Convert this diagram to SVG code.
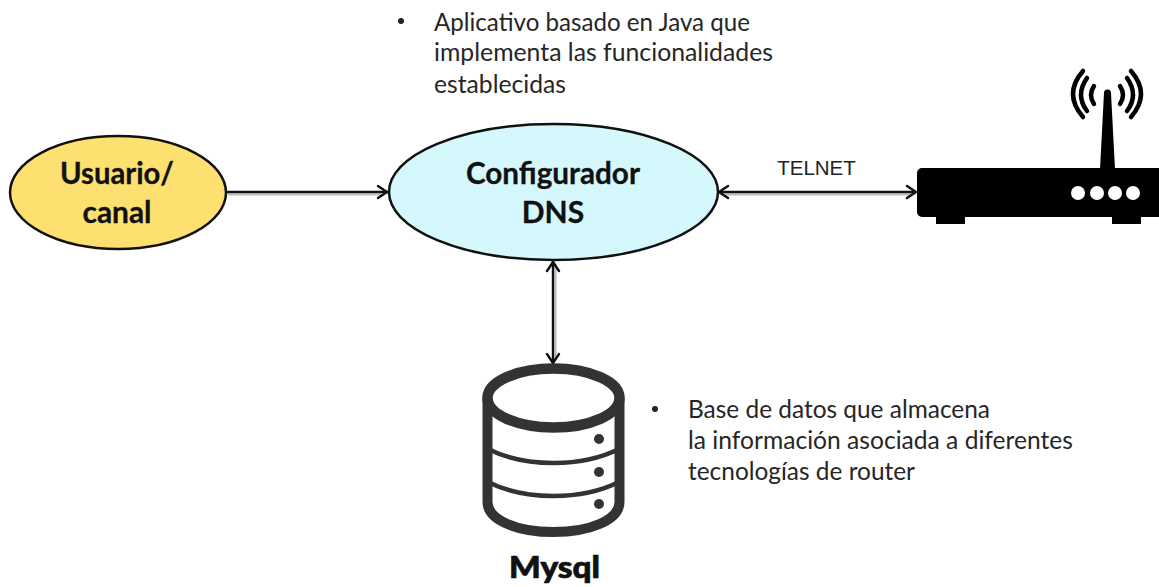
<svg xmlns="http://www.w3.org/2000/svg" width="1159" height="587" viewBox="0 0 1159 587">
<style>
.t{font-family:Lato,"Open Sans",sans-serif;font-size:24.300px;fill:#262626}
.b{font-family:Lato,"Open Sans",sans-serif;font-size:30px;font-weight:700;fill:#111;text-anchor:middle;stroke:#111;stroke-width:.3}
.s{stroke:#bbb;stroke-width:2;fill:none}
.l{stroke:#111;stroke-width:2.400;fill:none}
.h{stroke:#111;stroke-width:2.400;fill:none;stroke-linecap:round}
.d{fill:none;stroke:#333;stroke-linecap:butt}
.w{fill:none;stroke:#000;stroke-width:4.500;stroke-linecap:round}
</style>
<rect width="1159" height="587" fill="#fff"/>
<g id="connectors">
<path class="s" d="M228 194.500H384M722 194.500H912M555.500 264V360"/>
<path class="l" d="M226 192H388"/><path class="h" d="M378 186l9 6-9 6"/>
<path class="l" d="M719 192H916"/><path class="h" d="M728 186l-9 6 9 6M907 186l9 6-9 6"/>
<path class="l" d="M553 261V363"/><path class="h" d="M547 271l6-9 6 9M547 354l6 9 6-9"/>
</g>
<g id="usuario">
<ellipse cx="118" cy="192.500" rx="108" ry="56.500" fill="#fde06f" stroke="#111" stroke-width="2.500"/>
<text class="b" x="117" y="184" textLength="114" lengthAdjust="spacingAndGlyphs">Usuario/</text><text class="b" x="117" y="223" textLength="69" lengthAdjust="spacingAndGlyphs">canal</text>
</g>
<g id="configurador">
<ellipse cx="553.500" cy="192" rx="164.500" ry="68" fill="#d5f8fc" stroke="#111" stroke-width="2.500"/>
<text class="b" x="553" y="184" textLength="174" lengthAdjust="spacingAndGlyphs">Configurador</text><text class="b" x="553" y="223">DNS</text>
</g>
<g id="router">
<path d="M922 168H1159V217H922a5 5 0 0 1-5-5V173a5 5 0 0 1 5-5zM936 216h29v8h-29zM1112 216h29v8h-29zM1100 169l4-76a3.500 3.500 0 0 1 7 0l4 76z" fill="#000"/>
<g fill="#fff"><circle cx="1078" cy="193" r="7"/><circle cx="1097" cy="193" r="7"/><circle cx="1115" cy="193" r="7"/><circle cx="1133" cy="193" r="7"/></g>
<path class="w" d="M1094 86q-6 9 0 18M1087 78q-12 17 0 33M1083 71q-20 23 0 46M1120 86q6 9 0 18M1127 78q12 17 0 33M1131 71q20 23 0 46"/>
</g>
<g id="mysql">
<ellipse class="d" cx="553.500" cy="398" rx="66" ry="29.500" stroke-width="10.500"/>
<path class="d" stroke-width="10" d="M487.500 398V502C487.500 520 517 532 553.500 532S619.500 520 619.500 502V398"/>
<path class="d" stroke-width="4.500" d="M488 449C500 455 520 463 553.500 463S607 455 619 449M488 482C500 488 520 496 553.500 496S607 488 619 482"/>
<g fill="#333"><circle cx="599" cy="439" r="5"/><circle cx="599" cy="472" r="5"/><circle cx="599" cy="504" r="5"/></g>
<text x="554.500" y="578" text-anchor="middle" font-family="Lato,sans-serif" font-weight="900" font-size="30" textLength="91" lengthAdjust="spacingAndGlyphs" fill="#111" stroke="#111" stroke-width=".7">Mysql</text>
</g>
<g id="note-app">
<circle cx="401" cy="21" r="3" fill="#222"/>
<text class="t" x="434" y="31" textLength="316" lengthAdjust="spacingAndGlyphs">Aplicativo basado en Java que</text>
<text class="t" x="434" y="61" textLength="339" lengthAdjust="spacingAndGlyphs">implementa las funcionalidades</text>
<text class="t" x="434" y="93" textLength="132" lengthAdjust="spacingAndGlyphs">establecidas</text>
</g>
<g id="note-db">
<circle cx="655" cy="409" r="3" fill="#222"/>
<text class="t" x="688" y="418" textLength="302" lengthAdjust="spacingAndGlyphs">Base de datos que almacena</text>
<text class="t" x="688" y="449" textLength="385" lengthAdjust="spacingAndGlyphs">la información asociada a diferentes</text>
<text class="t" x="688" y="480" textLength="227" lengthAdjust="spacingAndGlyphs">tecnologías de router</text>
</g>
<text id="telnet" x="816.500" y="175" text-anchor="middle" font-family="Liberation Sans,Arial,sans-serif" font-size="20.500" fill="#222">TELNET</text>
</svg>
